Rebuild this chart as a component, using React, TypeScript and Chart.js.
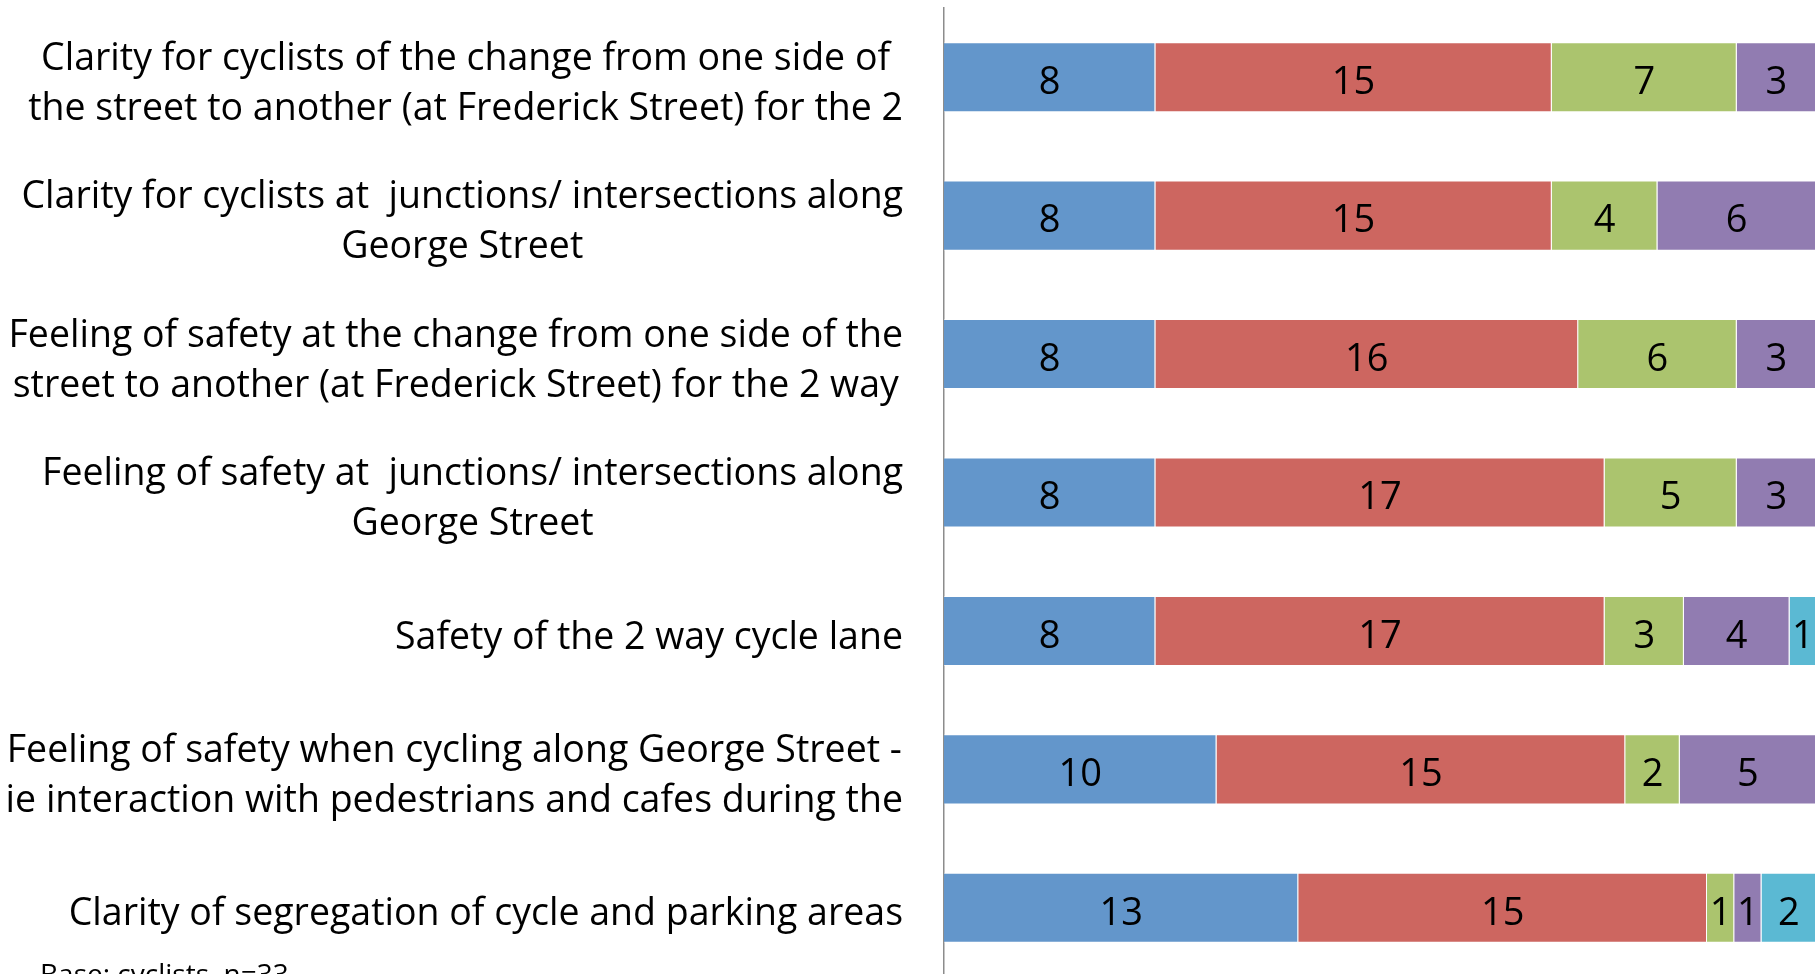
import React, { useEffect, useRef } from "react";
import { Chart, registerables } from "chart.js";

Chart.register(...registerables);

const categories: string[][] = [
  ["Clarity for cyclists of the change from one side of", "the street to another (at Frederick Street) for the 2"],
  ["Clarity for cyclists at  junctions/ intersections along", "George Street"],
  ["Feeling of safety at the change from one side of the", "street to another (at Frederick Street) for the 2 way"],
  ["Feeling of safety at  junctions/ intersections along", "George Street"],
  ["Safety of the 2 way cycle lane"],
  ["Feeling of safety when cycling along George Street -", "ie interaction with pedestrians and cafes during the"],
  ["Clarity of segregation of cycle and parking areas"],
];

const seriesNames = ["Series 1", "Series 2", "Series 3", "Series 4", "Series 5"];
const series1 = [8, 8, 8, 8, 8, 10, 13];
const series2 = [15, 15, 16, 17, 17, 15, 15];
const series3 = [7, 4, 6, 5, 3, 2, 1];
const series4 = [3, 6, 3, 3, 4, 5, 1];
const series5 = [0, 0, 0, 0, 1, 0, 2];
const colors = ["#6396CB", "#CD6660", "#ABC46E", "#917CB1", "#5BB9D3"];
const baseNote = "Base: cyclists, n=33";

const FONT = "'Open Sans', Lato, sans-serif";

export default function App() {
  const ref = useRef<HTMLCanvasElement>(null);
  useEffect(() => {
    const all = [series1, series2, series3, series4, series5];
    const totals = categories.map((_, i) => all.reduce((s, a) => s + a[i], 0));
    const labelPlugin = {
      id: "customLabels",
      afterDatasetsDraw(chart: any) {
        const ctx = chart.ctx;
        ctx.save();
        // data labels
        ctx.font = `38px ${FONT}`;
        ctx.fillStyle = "#000";
        ctx.textAlign = "center";
        ctx.textBaseline = "middle";
        chart.data.datasets.forEach((ds: any, di: number) => {
          const meta = chart.getDatasetMeta(di);
          meta.data.forEach((el: any, i: number) => {
            const v = all[di][i];
            if (!v) return;
            ctx.fillText(String(v), (el.x + el.base) / 2, el.y + 6);
          });
        });
        // category labels
        const ys = chart.scales.y;
        ctx.font = `37.5px ${FONT}`;
        const lh = 50;
        const right = 903;
        categories.forEach((lines, i) => {
          const cy = ys.getPixelForTick(i) + 7;
          const maxW = Math.max(...lines.map((l) => ctx.measureText(l).width));
          const cx = right - maxW / 2;
          lines.forEach((l, k) => {
            ctx.fillText(l, cx, cy - ((lines.length - 1) * lh) / 2 + k * lh);
          });
        });
        // base note
        ctx.textAlign = "left";
        ctx.textBaseline = "top";
        ctx.font = `28px ${FONT}`;
        ctx.fillText(baseNote, 40, 962);
        ctx.restore();
      },
    };
    const chart = new Chart(ref.current!, {
      type: "bar",
      data: {
        labels: categories.map((c) => c.join(" ")),
        datasets: all.map((a, di) => ({
          label: seriesNames[di],
          data: a.map((v, i) => (v / totals[i]) * 100),
          backgroundColor: colors[di],
          borderColor: "rgba(255,255,255,0.45)",
          borderWidth: 1,
          barPercentage: 0.506,
          categoryPercentage: 1,
        })),
      },
      options: {
        indexAxis: "y",
        responsive: false,
        animation: false,
        devicePixelRatio: 1,
        layout: { padding: { top: 8, bottom: 8, left: 0, right: 0 } },
        plugins: { legend: { display: false }, tooltip: { enabled: false } },
        scales: {
          x: { stacked: true, min: 0, max: 100, display: false },
          y: {
            stacked: true,
            offset: true,
            grid: { display: false },
            border: { display: true, color: "#8c8c8c", width: 1.5 },
            ticks: { display: false },
            afterFit(scale: any) {
              scale.width = 944;
            },
          },
        },
      },
      plugins: [labelPlugin],
    } as any);
    return () => chart.destroy();
  }, []);
  return (
    <div style={{ position: "absolute", left: 0, top: 0, width: 1816, height: 974, overflow: "hidden", background: "#fff" }}>
      <canvas ref={ref} width={1816} height={985} style={{ width: 1816, height: 985, display: "block" }} />
    </div>
  );
}
